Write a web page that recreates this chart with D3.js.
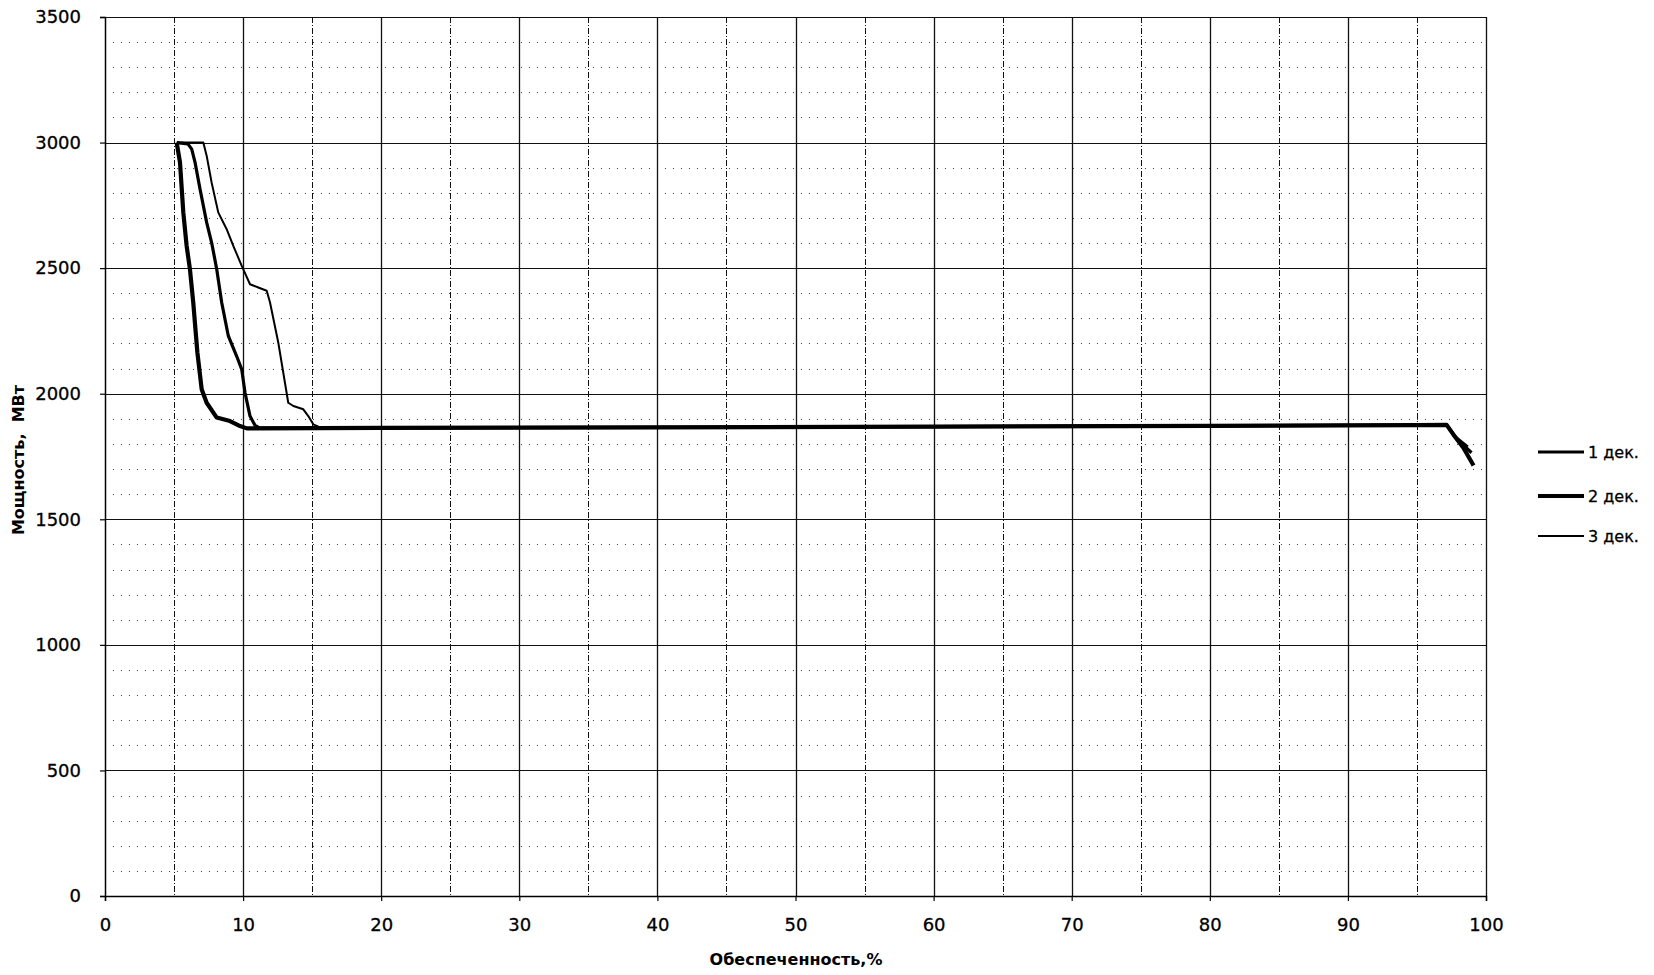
<!DOCTYPE html>
<html>
<head>
<meta charset="utf-8">
<script src="https://cdn.jsdelivr.net/npm/d3@7"></script>
<style>
  body { margin: 0; background: #fff; }
  svg { display: block; font-family: "DejaVu Sans", Verdana, sans-serif; }
</style>
</head>
<body>
<div id="chart"></div>
<script>
// Values
const flatTail = [[20, 1864], [40, 1866], [60, 1869], [80, 1872], [95, 1875], [97.15, 1876]];

const dek1 = [[5.2, 3000], [6.0, 2995], [6.28, 2974], [6.52, 2921], [6.88, 2815], [7.36, 2682],
  [7.72, 2602], [8.09, 2496], [8.45, 2363], [8.93, 2230], [9.53, 2150], [9.9, 2097],
  [10.14, 2004], [10.5, 1911], [10.86, 1874], [11.22, 1863],
  ...flatTail, [97.9, 1820], [98.95, 1765]];

const dek2 = [[5.19, 3000], [5.43, 2921], [5.67, 2722], [5.91, 2589], [6.15, 2496], [6.39, 2363],
  [6.69, 2164], [7.0, 2018], [7.36, 1964], [8.09, 1905], [9.05, 1891], [9.78, 1871],
  [10.26, 1862], ...flatTail, [97.63, 1838], [98.36, 1785], [99.1, 1714]];

const dek3 = [[5.2, 3000], [7.12, 3000], [7.36, 2948], [7.72, 2841], [8.2, 2722], [8.81, 2655],
  [9.29, 2589], [9.9, 2509], [10.5, 2436], [11.1, 2423], [11.71, 2410], [11.95, 2363],
  [12.55, 2203], [13.27, 1964], [13.64, 1951], [14.36, 1938], [14.72, 1911], [15.08, 1878],
  [15.57, 1866], [16.3, 1864], ...flatTail, [97.8, 1830], [98.7, 1790]];

const seriesNames = ["1 дек.", "2 дек.", "3 дек."];
const seriesData = [dek1, dek2, dek3];
const seriesWidths = [3.2, 4.2, 2];

const xTicks = d3.range(0, 101, 10);
const yTicks = d3.range(0, 3501, 500);

const W = 1654, H = 975;
const margin = { left: 105, top: 17, right: 168, bottom: 79 };
const width = W - margin.left - margin.right;
const height = H - margin.top - margin.bottom;

const svg = d3.select("#chart").append("svg")
  .attr("width", W)
  .attr("height", H);

const g = svg.append("g")
  .attr("transform", `translate(${margin.left},${margin.top})`);

const x = d3.scaleLinear().domain([0, 100]).range([0, width]);
const y = d3.scaleLinear().domain([0, 3500]).range([height, 0]);

// minor horizontal dotted grid every 100
g.append("g")
  .selectAll("line")
  .data(d3.range(100, 3500, 100).filter(v => v % 500 !== 0))
  .enter()
  .append("line")
  .attr("x1", 0)
  .attr("x2", width)
  .attr("y1", d => Math.round(y(d)) + 0.5)
  .attr("y2", d => Math.round(y(d)) + 0.5)
  .attr("stroke", "#444")
  .attr("stroke-width", 1)
  .attr("stroke-dasharray", "1,7");

// major horizontal grid
g.append("g")
  .selectAll("line")
  .data(yTicks.filter(v => v > 0))
  .enter()
  .append("line")
  .attr("x1", 0)
  .attr("x2", width)
  .attr("y1", d => Math.round(y(d)) + 0.5)
  .attr("y2", d => Math.round(y(d)) + 0.5)
  .attr("stroke", "#111")
  .attr("stroke-width", 1.2);

// vertical grid every 5: solid on tens, dash-dot on fives
g.append("g")
  .selectAll("line")
  .data(d3.range(5, 101, 5))
  .enter()
  .append("line")
  .attr("x1", d => Math.round(x(d)) + 0.5)
  .attr("x2", d => Math.round(x(d)) + 0.5)
  .attr("y1", 0)
  .attr("y2", height)
  .attr("stroke", "#111")
  .attr("stroke-width", d => d % 10 === 0 ? 1.3 : 1)
  .attr("stroke-dasharray", d => d % 10 === 0 ? null : "6,2,1,2");

// axes
const xAxis = g.append("g")
  .attr("transform", `translate(0,${height})`)
  .call(d3.axisBottom(x).tickValues(xTicks).tickFormat(d3.format("d")).tickSize(5).tickPadding(17));

const yAxis = g.append("g")
  .call(d3.axisLeft(y).tickValues(yTicks).tickFormat(d3.format("d")).tickSize(5).tickPadding(19));

[xAxis, yAxis].forEach(a => {
  a.select(".domain").attr("stroke", "#000").attr("stroke-width", 1.5);
  a.selectAll(".tick line").attr("stroke", "#000").attr("stroke-width", 1.2);
  a.selectAll(".tick text")
    .attr("fill", "#000")
    .attr("stroke", "#000")
    .attr("stroke-width", 0.3)
    .style("font-size", "18px")
    .style("font-family", "'DejaVu Sans', Verdana, sans-serif");
});

// curves
const line = d3.line()
  .x(d => x(d[0]))
  .y(d => y(d[1]));

g.append("g")
  .selectAll("path")
  .data(seriesData)
  .enter()
  .append("path")
  .attr("d", line)
  .attr("fill", "none")
  .attr("stroke", "#000")
  .attr("stroke-width", (d, i) => seriesWidths[i])
  .attr("stroke-linejoin", "round");

// axis titles
svg.append("text")
  .attr("x", 796)
  .attr("y", 965)
  .attr("text-anchor", "middle")
  .style("font-size", "16px")
  .style("font-weight", "bold")
  .text("Обеспеченность,%");

svg.append("text")
  .attr("transform", "translate(24,460) rotate(-90)")
  .attr("text-anchor", "middle")
  .style("font-size", "16px")
  .style("font-weight", "bold")
  .attr("xml:space", "preserve")
  .text("Мощность,  МВт");

// legend
const legendY = [452, 496, 536];
const legend = svg.append("g")
  .selectAll("g")
  .data(seriesNames)
  .enter()
  .append("g")
  .attr("transform", (d, i) => `translate(1538,${legendY[i]})`);

legend.append("line")
  .attr("x1", 0)
  .attr("x2", 46)
  .attr("stroke", "#000")
  .attr("stroke-width", (d, i) => seriesWidths[i]);

legend.append("text")
  .attr("x", 50)
  .attr("y", 6)
  .attr("stroke", "#000")
  .attr("stroke-width", 0.3)
  .style("font-size", "16px")
  .text(d => d);
</script>
</body>
</html>
